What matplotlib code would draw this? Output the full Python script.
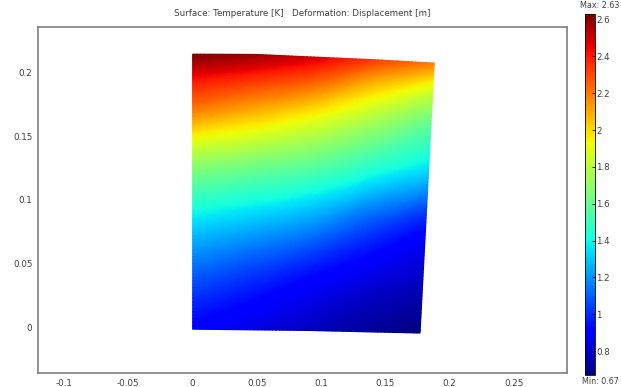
import numpy as np
import matplotlib
matplotlib.use('Agg')
import matplotlib.pyplot as plt
import matplotlib.tri as mtri

# deformed geometry (m)
top_x = [0.0, 0.049, 0.095, 0.142, 0.188]
top_y = [0.214, 0.2138, 0.2117, 0.2096, 0.207]
bottom_x = [0.0, 0.045, 0.090, 0.133, 0.177]
bottom_y = [-0.001, -0.0015, -0.002, -0.003, -0.004]

# temperature (K) at the nodes, rows from bottom (s=0) to top (s=1), columns left to right
s_levels = [0.0, 0.2, 0.4, 0.6, 0.8, 0.9, 1.0]
temp_cols = [
    [0.90, 1.10, 1.36, 1.70, 2.20, 2.40, 2.63],
    [0.84, 1.02, 1.30, 1.64, 2.10, 2.33, 2.58],
    [0.78, 0.93, 1.22, 1.57, 1.97, 2.23, 2.48],
    [0.72, 0.85, 1.08, 1.45, 1.81, 2.04, 2.33],
    [0.67, 0.79, 0.95, 1.33, 1.64, 1.87, 2.19],
]
t_min, t_max = 0.67, 2.63

x_ticks = [-0.1, -0.05, 0, 0.05, 0.1, 0.15, 0.2, 0.25]
y_ticks = [0, 0.05, 0.1, 0.15, 0.2]
cbar_ticks = [0.8, 1, 1.2, 1.4, 1.6, 1.8, 2, 2.2, 2.4, 2.6]

s = np.array(s_levels)[:, None]
X = (1 - s) * np.array(bottom_x)[None, :] + s * np.array(top_x)[None, :]
Y = (1 - s) * np.array(bottom_y)[None, :] + s * np.array(top_y)[None, :]
T = np.array(temp_cols).T

# triangulate the node grid and let matplotlib smooth the field
ny, nx = X.shape
tris = []
for i in range(ny - 1):
    for j in range(nx - 1):
        a = i * nx + j
        tris.append([a, a + 1, a + nx + 1])
        tris.append([a, a + nx + 1, a + nx])
tri = mtri.Triangulation(X.ravel(), Y.ravel(), tris)
interp = mtri.CubicTriInterpolator(tri, T.ravel(), kind='geom')
fine_tri, fine_T = mtri.UniformTriRefiner(tri).refine_field(T.ravel(), triinterpolator=interp, subdiv=4)

fig = plt.figure(figsize=(6.21, 3.87), dpi=100)
ax = fig.add_axes([38 / 621, 14 / 387, 529 / 621, 346 / 387])
mesh = ax.tripcolor(fine_tri, np.clip(fine_T, t_min, t_max), shading='gouraud',
                    cmap='jet', vmin=t_min, vmax=t_max)

ax.set_xlim(-0.1203, 0.2913)
ax.set_ylim(-0.0352, 0.2352)
ax.set_xticks(x_ticks)
ax.set_xticklabels([f'{v:g}' for v in x_ticks])
ax.set_yticks(y_ticks)
ax.set_yticklabels([f'{v:g}' for v in y_ticks])
ax.tick_params(length=0, labelsize=6.3, labelcolor='#404040', pad=4)
for sp in ax.spines.values():
    sp.set_color('#888888')
    sp.set_linewidth(1.3)

fig.text(302 / 621, 1 - 13 / 387, 'Surface: Temperature [K]   Deformation: Displacement [m]',
         ha='center', va='center', fontsize=6.3, color='#404040')

cax = fig.add_axes([585 / 621, 12 / 387, 10 / 621, 361 / 387])
cb = fig.colorbar(mesh, cax=cax, ticks=cbar_ticks)
cb.ax.set_yticklabels([f'{v:g}' for v in cbar_ticks])
cb.ax.tick_params(length=2, direction='in', labelsize=6.3, labelcolor='#404040', pad=1, width=0.6)
cb.outline.set_linewidth(0.6)

fig.text(619 / 621, 1 - 6 / 387, 'Max: 2.63', ha='right', va='center', fontsize=5.8, color='#404040')
fig.text(619 / 621, 1 - 381 / 387, 'Min: 0.67', ha='right', va='center', fontsize=5.8, color='#404040')

fig.savefig('out.png', dpi=100)
